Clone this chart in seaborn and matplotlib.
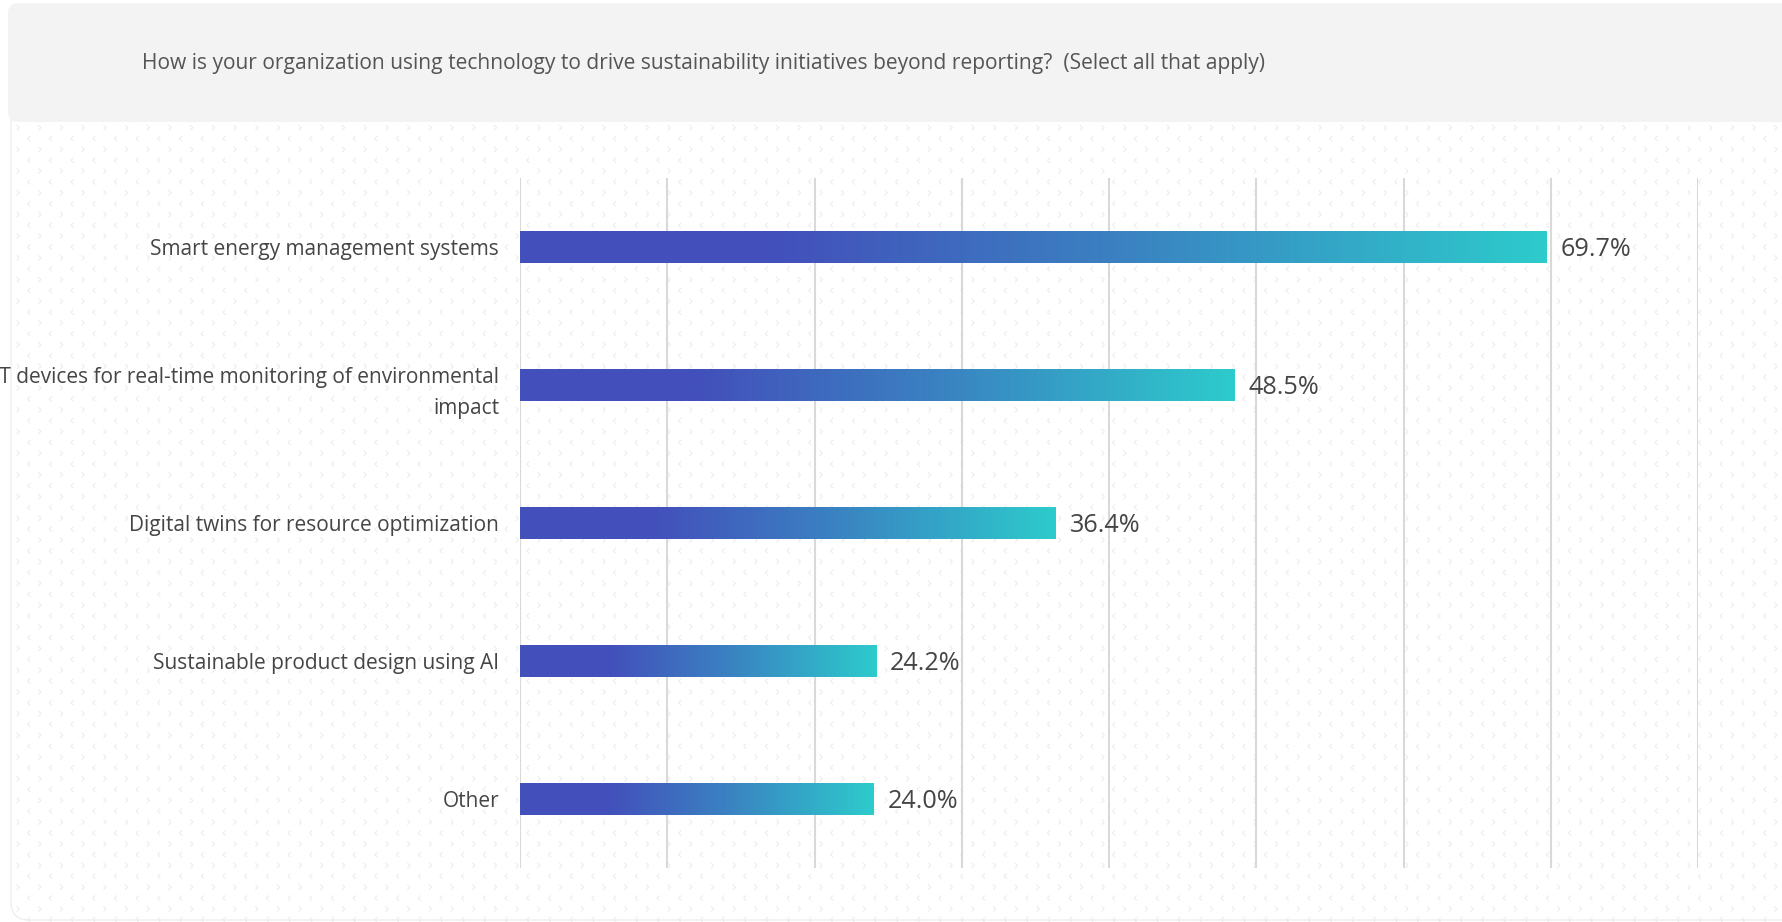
import numpy as np
import pandas as pd
import matplotlib
matplotlib.use("Agg")
import matplotlib.pyplot as plt
import seaborn as sns
from matplotlib.colors import LinearSegmentedColormap
from matplotlib.patches import FancyBboxPatch
from matplotlib.path import Path

# ---- data -----------------------------------------------------------------
question = ("How is your organization using technology to drive sustainability "
            "initiatives beyond reporting?  (Select all that apply)")
categories = [
    "Smart energy management systems",
    "IoT devices for real-time monitoring of environmental\nimpact",
    "Digital twins for resource optimization",
    "Sustainable product design using AI",
    "Other",
]
shares = [69.7, 48.5, 36.4, 24.2, 24.0]
grid_ticks = [0, 10, 20, 30, 40, 50, 60, 70, 80]

# ---- style ----------------------------------------------------------------
sns.set_theme(style="white")
plt.rcParams["font.family"] = ["Open Sans", "DejaVu Sans"]
text_color = "#454545"
bar_cmap = LinearSegmentedColormap.from_list(
    "bar_grad", [(0.0, "#4350bb"), (0.25, "#4350bb"), (0.6, "#3a84c2"), (1.0, "#2dcbcc")])

W, H = 1783, 922
fig = plt.figure(figsize=(W / 100, H / 100), dpi=100)
fig.patch.set_facecolor("white")

# background layer in pixel coordinates
bg = fig.add_axes([0, 0, 1, 1], zorder=-5)
bg.set_xlim(0, W)
bg.set_ylim(H, 0)
bg.axis("off")

# white panel with a faint outline and rounded corners
bg.add_patch(FancyBboxPatch((11, 100), W + 40, 820, boxstyle="round,pad=0,rounding_size=18",
                            facecolor="white", edgecolor="#efefef", lw=1.0, zorder=0))

# faint chevron texture
right_chev = Path([(-0.5, 1.0), (0.5, 0.0), (-0.5, -1.0)],
                  [Path.MOVETO, Path.LINETO, Path.LINETO])
left_chev = Path([(0.5, 1.0), (-0.5, 0.0), (0.5, -1.0)],
                 [Path.MOVETO, Path.LINETO, Path.LINETO])
step = 21.7
gx, gy = np.meshgrid(np.arange(18, W + 10, step), np.arange(106, H + 10, step))
bg.scatter(gx.ravel(), gy.ravel(), marker=right_chev, s=14, facecolors="none",
           edgecolors="#ededed", linewidths=0.8, zorder=1)
bg.scatter(gx.ravel() + step / 2, gy.ravel() + step / 2, marker=left_chev, s=14,
           facecolors="none", edgecolors="#ededed", linewidths=0.8, zorder=1)

# header band
bg.add_patch(FancyBboxPatch((8, 3), W + 40, 119, boxstyle="round,pad=0,rounding_size=10",
                            facecolor="#f3f3f3", edgecolor="none", alpha=0.93, zorder=2))
bg.text(142, 63, question, ha="left", va="center", fontsize=15.1, color="#555555", zorder=3)

# ---- chart ----------------------------------------------------------------
ax = fig.add_axes([520 / W, 1 - 868 / H, (1698 - 520) / W, (868 - 178) / H])
ax.patch.set_alpha(0)

df = pd.DataFrame({"category": categories, "share": shares})
sns.barplot(data=df, x="share", y="category", orient="h", width=0.225,
            color="#4350bb", ax=ax, zorder=3)

ax.set_xlim(0, 80)
ax.set_ylim(4.5, -0.5)
ax.set_xticks(grid_ticks)
ax.set_xticklabels([])
ax.grid(axis="x", color="#d9d9d9", lw=1.5, zorder=0)
ax.grid(axis="y", visible=False)
ax.tick_params(axis="x", length=0)
ax.tick_params(axis="y", length=0, pad=15, labelsize=15, labelcolor=text_color)
for lbl in ax.get_yticklabels():
    lbl.set_multialignment("right")
    lbl.set_linespacing(1.65)
ax.set_xlabel("")
ax.set_ylabel("")
for sp in ax.spines.values():
    sp.set_visible(False)

# gradient fill clipped to every bar
gradient = np.linspace(0, 1, 512).reshape(1, -1)
for patch, val in zip(ax.patches, shares):
    x0, y0 = patch.get_x(), patch.get_y()
    w, h = patch.get_width(), patch.get_height()
    im = ax.imshow(gradient, cmap=bar_cmap, aspect="auto",
                   extent=(x0, x0 + w, y0 + h, y0), zorder=4, interpolation="bilinear")
    im.set_clip_path(patch)
    patch.set_facecolor("none")
    patch.set_edgecolor("none")
    ax.annotate(f"{val:.1f}%", xy=(x0 + w, y0 + h / 2), xytext=(10, -1.5),
                textcoords="offset points", ha="left", va="center",
                fontsize=18.2, color=text_color, zorder=5)

ax.set_xlim(0, 80)
ax.set_ylim(4.5, -0.5)

fig.savefig("out.png", dpi=100, facecolor="white")
